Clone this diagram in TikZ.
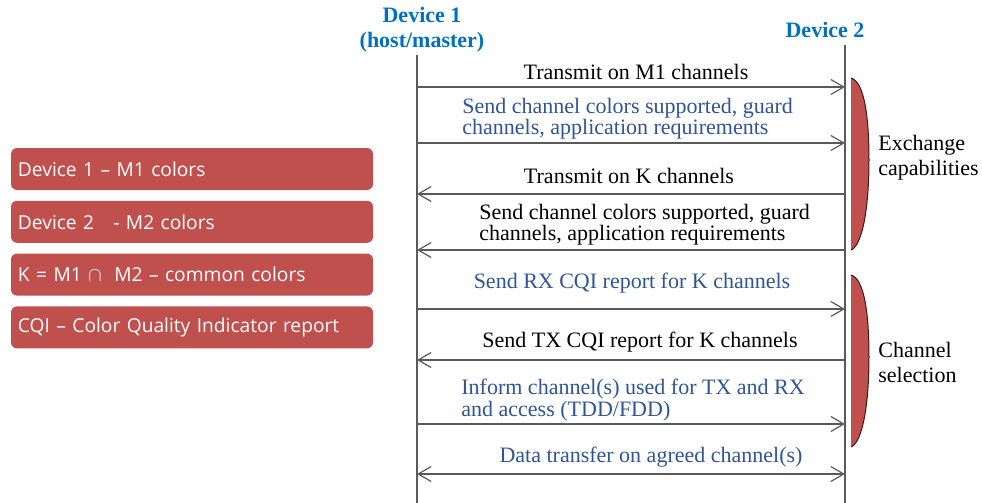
\documentclass[tikz,border=0pt]{standalone}
\usepackage{fontspec}
\setmainfont{Liberation Serif}
\newfontfamily\boxfont[Ligatures=TeX]{Open Sans}
\usetikzlibrary{arrows.meta, positioning}
\definecolor{devblue}{RGB}{0,112,192}
\definecolor{msgblue}{RGB}{47,85,151}
\definecolor{boxred}{RGB}{192,80,77}
\definecolor{lifegray}{RGB}{90,90,90}
\newcommand\tightlines{\lineskiplimit=-10pt\relax}

\begin{document}
\begin{tikzpicture}[x=0.5pt, y=-0.5pt,
  devlabel/.style={align=center, font=\fontsize{11}{12.5}\selectfont\bfseries, text=devblue, inner sep=0pt},
  msg/.style={font=\fontsize{11}{8}\selectfont, inner sep=0pt},
  msgtwo/.style={msg, align=left, anchor=west, font=\fontsize{11}{10.6}\selectfont\tightlines},
  life/.style={draw=lifegray, line width=0.7pt},
  arr/.style={draw=lifegray, line width=0.6pt, -{Straight Barb[length=6.5pt, width=7.5pt]}},
  legend/.style={draw=none, fill=boxred, rounded corners=3pt, minimum width=181pt,
                 minimum height=21pt, text width=174pt, inner xsep=3.5pt, align=left,
                 text=white, font=\boxfont\fontsize{9.6}{10}\selectfont},
  phase/.style={fill=boxred},
  phaseedge/.style={draw=black!70!boxred, line width=0.5pt},
  phaselabel/.style={align=left, anchor=west, inner sep=0pt, font=\fontsize{11}{12.5}\selectfont}]
\useasboundingbox (0,0) rectangle (982,503);

% devices and lifelines
\node[devlabel] (dev1) at (422,30) {Device 1\\(host/master)};
\node[devlabel] (dev2) at (825,30) {Device 2};
\coordinate (d1top) at (417,55);
\coordinate (d1bot) at (417,503);
\coordinate (d2top) at (845,45);
\coordinate (d2bot) at (845,503);
\draw[life] (d1top) -- (d1bot);
\draw[life] (d2top) -- (d2bot);

% message rows
\foreach \i/\y in {1/87, 2/143, 3/194, 4/250, 5/309, 6/360, 7/424, 8/474} {
  \coordinate (a\i) at (417,\y);
  \coordinate (b\i) at (845,\y);
}

\node[msg] (m1) at (636,72) {Transmit on M1 channels};
\node[msgtwo, text=msgblue] (m2) at (462,119) {Send channel colors supported, guard\\channels, application requirements};
\node[msg] (m3) at (629,176) {Transmit on K channels};
\node[msgtwo] (m4) at (479,225) {Send channel colors supported, guard\\channels, application requirements};
\node[msg, text=msgblue] (m5) at (632,283) {Send RX CQI report for K channels};
\node[msg] (m6) at (640,342) {Send TX CQI report for K channels};
\node[msgtwo, text=msgblue] (m7) at (461,400) {Inform channel(s) used for TX and RX\\and access  (TDD/FDD)};
\node[msg, text=msgblue] (m8) at (651,457) {Data transfer on agreed channel(s)};

\draw[arr] (a1) -- (b1);
\draw[arr] (a2) -- (b2);
\draw[arr] (b3) -- (a3);
\draw[arr] (b4) -- (a4);
\draw[arr] (a5) -- (b5);
\draw[arr] (b6) -- (a6);
\draw[arr] (a7) -- (b7);
\draw[arr, {Straight Barb[length=6.5pt, width=7.5pt]}-{Straight Barb[length=6.5pt, width=7.5pt]}] (a8) -- (b8);

% phase brackets
\fill[phase] (851,78) .. controls (865,82) and (869,120) .. (869,160) .. controls (869,205) and (863,245) .. (851,250) -- cycle;
\draw[phaseedge] (851,78) .. controls (865,82) and (869,120) .. (869,160) .. controls (869,205) and (863,245) .. (851,250);
\fill[phase] (851,275) .. controls (865,279) and (869,317) .. (869,357) .. controls (869,402) and (863,442) .. (851,447) -- cycle;
\draw[phaseedge] (851,275) .. controls (865,279) and (869,317) .. (869,357) .. controls (869,402) and (863,442) .. (851,447);
\node[phaselabel] (ph1) at (878,158) {Exchange\\capabilities};
\node[phaselabel] (ph2) at (878,362) {Channel\\selection};

% legend
\node[legend] (k1) at (192,169) {Device 1 – M1 colors};
\node[legend, below=5pt of k1] (k2) {Device 2 \ \ - M2 colors};
\node[legend, below=5pt of k2] (k3) {K = M1 $\cap$ \ M2 – common colors};
\node[legend, below=5pt of k3] (k4) {CQI – Color Quality Indicator report};
\end{tikzpicture}
\end{document}
